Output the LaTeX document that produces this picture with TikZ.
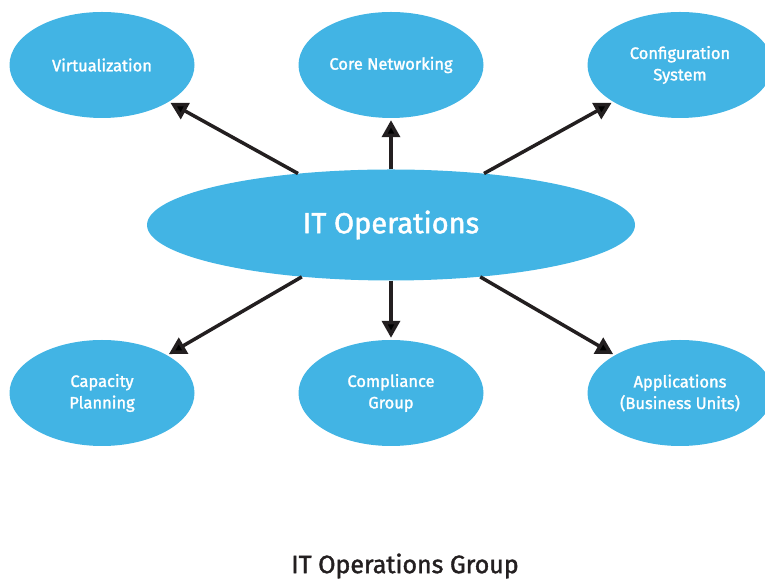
\documentclass[tikz,border=0pt]{standalone}
\usepackage{fontspec}
\setmainfont{Fira Sans}[FakeBold=1.6]
\usepackage{xcolor}
\usetikzlibrary{
    arrows.meta,
    shapes.geometric,
    positioning
}
\definecolor{opsblue}{RGB}{66,180,228}
\definecolor{opsink}{RGB}{35,31,32}

\begin{document}
\begin{tikzpicture}[x=1pt, y=1pt,
        >={Triangle[length=17pt, width=18pt]},
        unit/.style={ellipse, fill=opsblue, draw=none, inner sep=0pt,
            minimum width=185pt, minimum height=106pt, align=center,
            text=white, font=\fontsize{16.5}{21.5}\selectfont},
        hub/.style={unit, minimum width=488pt, minimum height=111pt,
            font=\fontsize{29}{34}\selectfont},
        link/.style={draw=opsink, line width=3.5pt, shorten >=2pt}]
    \useasboundingbox (0, 0) rectangle (765, 580);
    \node[hub] (ops) at (391, 355) {IT Operations};
    \node[unit] (virt) at (102, 515) {Virtualization};
    \node[unit] (core) at (391, 515) {Core Networking};
    \node[unit] (conf) at (680, 515) {Configuration\\System};
    \node[unit] (cap) at (102, 187) {Capacity\\Planning};
    \node[unit] (comp) at (391, 187) {Compliance\\Group};
    \node[unit] (app) at (680, 187) {Applications\\(Business Units)};
    \node[text=opsink, font=\fontsize{25}{30}\selectfont] (title) at (405, 14) {IT Operations Group};
    \draw[link]
    (ops) edge[->] (virt)
    (ops) edge[->] (core)
    (ops) edge[->] (conf)
    (ops) edge[->] (cap)
    (ops) edge[->] (comp)
    (ops) edge[->] (app);
\end{tikzpicture}
\end{document}
